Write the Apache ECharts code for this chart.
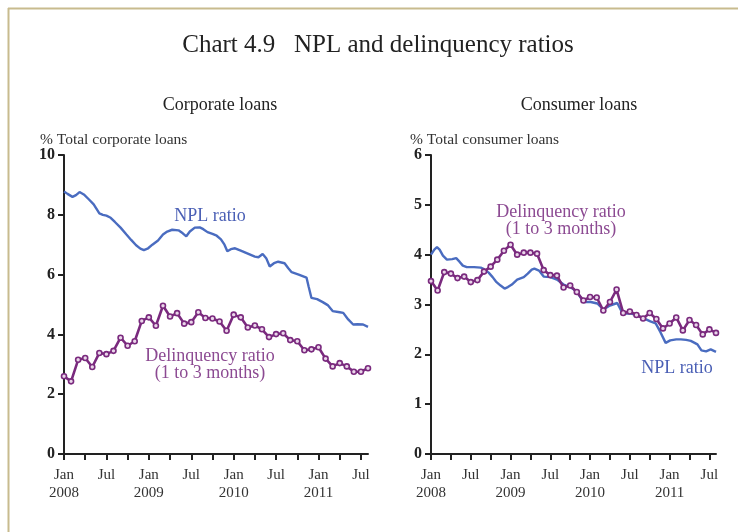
<!DOCTYPE html>
<html><head><meta charset="utf-8">
<script src="https://cdn.jsdelivr.net/npm/echarts@6/dist/echarts.min.js"></script>
<style>html,body{margin:0;padding:0;background:#fff}#c{width:738px;height:532px}</style>
</head><body><div id="c"></div>
<script>
// Months counted from Jan 2008 (0 = Jan 2008)
const delinqMonths = [0,1,2,3,4,5,6,7,8,9,10,11,12,13,14,15,16,17,18,19,20,21,22,23,24,25,26,27,28,29,30,31,32,33,34,35,36,37,38,39,40,41,42,43];
const corpDelinq = [2.60,2.43,3.15,3.21,2.91,3.38,3.34,3.45,3.89,3.62,3.77,4.45,4.57,4.29,4.96,4.60,4.71,4.36,4.41,4.74,4.55,4.53,4.43,4.12,4.66,4.57,4.23,4.30,4.17,3.91,4.01,4.04,3.81,3.77,3.47,3.50,3.57,3.19,2.93,3.04,2.93,2.75,2.75,2.87];
const consDelinq = [3.47,3.28,3.65,3.62,3.53,3.56,3.45,3.49,3.66,3.76,3.90,4.08,4.20,4.00,4.04,4.04,4.02,3.69,3.59,3.58,3.34,3.38,3.25,3.08,3.15,3.14,2.88,3.05,3.30,2.83,2.86,2.79,2.72,2.83,2.71,2.52,2.62,2.74,2.48,2.69,2.59,2.40,2.50,2.43];

const corpNplMonths = [0,0.5,1.2,1.7,2.2,2.8,3.5,4.2,5.0,5.5,6.0,6.6,7.2,8.0,8.8,9.5,10.2,10.8,11.3,11.9,12.5,13.3,14.0,14.6,15.3,16.2,16.8,17.3,17.8,18.5,19.2,19.7,20.3,21.0,21.6,22.2,22.7,23.1,23.6,24.2,25.0,26.0,27.0,27.5,28.1,28.6,29.1,29.7,30.3,31.2,31.7,32.2,33.2,34.3,34.6,35.0,35.8,36.6,37.3,38.0,39.0,39.5,40.2,40.9,41.5,42.3,43.0];
const corpNpl = [8.78,8.70,8.60,8.66,8.76,8.68,8.52,8.35,8.05,8.00,7.97,7.90,7.76,7.57,7.35,7.16,6.98,6.87,6.82,6.88,7.00,7.14,7.34,7.44,7.50,7.48,7.38,7.28,7.44,7.57,7.58,7.52,7.42,7.36,7.30,7.18,7.00,6.78,6.85,6.88,6.80,6.70,6.60,6.58,6.69,6.55,6.27,6.38,6.43,6.38,6.22,6.08,6.00,5.90,5.60,5.22,5.18,5.08,4.98,4.78,4.74,4.72,4.50,4.33,4.34,4.33,4.25];

const consNplMonths = [0,0.5,0.9,1.3,1.8,2.4,3.2,3.8,4.3,4.8,5.4,6.5,7.5,8.0,8.7,9.3,9.8,10.5,11.1,11.6,12.2,13.0,14.0,14.6,15.2,15.6,16.3,17.0,18.0,19.0,20.0,21.0,22.0,23.0,24.1,25.1,26.0,27.0,28.1,28.6,29.0,30.1,31.1,32.1,33.1,33.9,34.6,35.4,36.1,37.0,37.7,38.5,39.2,40.2,40.8,41.5,42.2,43.0];
const consNpl = [4.00,4.10,4.15,4.10,3.98,3.90,3.91,3.93,3.86,3.78,3.75,3.75,3.74,3.71,3.64,3.55,3.46,3.38,3.32,3.35,3.40,3.50,3.55,3.62,3.70,3.72,3.68,3.56,3.55,3.50,3.40,3.35,3.26,3.05,3.05,3.02,2.90,2.98,3.03,2.90,2.82,2.82,2.78,2.72,2.66,2.62,2.45,2.23,2.28,2.30,2.30,2.29,2.27,2.20,2.08,2.06,2.10,2.05];

const xTickMonths = [0,3,6,9,12,15,18,21,24,27,30,33,36,39,42];
const xTickLabels = ['Jan\n2008','','Jul','','Jan\n2009','','Jul','','Jan\n2010','','Jul','','Jan\n2011','','Jul'];

const FONT = '"Liberation Serif", "DejaVu Serif", serif';
const BLUE = '#4a6cc0';
const PURPLE = '#7a2a7e';
const LABEL_PURPLE = '#8c4a92';
const LABEL_BLUE = '#4a5fb5';

function pairs(xs, ys){ return xs.map((x,i)=>[x, ys[i]]); }

function xAxisCfg(gi){
  return {
    type:'value', gridIndex:gi, min:0, max:43,
    axisLine:{show:true, onZero:false, lineStyle:{color:'#222', width:2}},
    axisTick:{show:true, inside:false, length:6, lineStyle:{color:'#222', width:2}, customValues:xTickMonths},
    axisLabel:{customValues:xTickMonths, margin:12, fontFamily:FONT, fontSize:15, color:'#333', lineHeight:18,
      formatter:function(v){ const i = xTickMonths.indexOf(Math.round(v)); return i>=0 ? xTickLabels[i] : ''; }},
    splitLine:{show:false}
  };
}
function yAxisCfg(gi, max, interval){
  return {
    type:'value', gridIndex:gi, min:0, max:max, interval:interval,
    axisLine:{show:true, lineStyle:{color:'#222', width:2}},
    axisTick:{show:true, length:6, lineStyle:{color:'#222', width:2}},
    axisLabel:{margin:9, fontFamily:FONT, fontSize:16, fontWeight:'bold', color:'#222'},
    splitLine:{show:false}
  };
}
function nplSeries(gi, data){
  return {type:'line', xAxisIndex:gi, yAxisIndex:gi, data:data, showSymbol:false, symbol:'none',
    lineStyle:{color:BLUE, width:2.4}, z:2, animation:false};
}
function delSeries(gi, data){
  return {type:'line', xAxisIndex:gi, yAxisIndex:gi, data:data, symbol:'circle', symbolSize:5, showSymbol:true,
    lineStyle:{color:PURPLE, width:2.6}, itemStyle:{color:'#ead6ea', borderColor:PURPLE, borderWidth:1.6}, z:3, animation:false};
}
function txt(x, y, s, size, color, align){
  return {type:'text', x:x, y:y, style:{text:s, fontFamily:FONT, fontSize:size, fill:color, textAlign:align||'center', textVerticalAlign:'middle'}};
}

const chart = echarts.init(document.getElementById('c'), null, {renderer:'canvas'});
chart.setOption({
  animation:false,
  backgroundColor:'#fff',
  grid:[
    {left:64, top:155, width:304, height:299},
    {left:431, top:155, width:285, height:299}
  ],
  xAxis:[xAxisCfg(0), xAxisCfg(1)],
  yAxis:[yAxisCfg(0,10,2), yAxisCfg(1,6,1)],
  series:[
    nplSeries(0, pairs(corpNplMonths, corpNpl)),
    delSeries(0, pairs(delinqMonths, corpDelinq)),
    nplSeries(1, pairs(consNplMonths, consNpl)),
    delSeries(1, pairs(delinqMonths, consDelinq))
  ],
  graphic:[
    {type:'line', shape:{x1:8, y1:8.5, x2:738, y2:8.5}, style:{stroke:'#c8bb8e', lineWidth:2}},
    {type:'line', shape:{x1:8.5, y1:8, x2:8.5, y2:532}, style:{stroke:'#c8bb8e', lineWidth:2}},
    txt(378, 45, 'Chart 4.9   NPL and delinquency ratios', 25, '#222'),
    txt(220, 105, 'Corporate loans', 18, '#222'),
    txt(579, 105, 'Consumer loans', 18, '#222'),
    txt(40, 140, '% Total corporate loans', 15.5, '#333', 'left'),
    txt(410, 140, '% Total consumer loans', 15.5, '#333', 'left'),
    txt(210, 216, 'NPL ratio', 18, LABEL_BLUE),
    txt(210, 356, 'Delinquency ratio', 18, LABEL_PURPLE),
    txt(210, 373, '(1 to 3 months)', 18, LABEL_PURPLE),
    txt(561, 212, 'Delinquency ratio', 18, LABEL_PURPLE),
    txt(561, 229, '(1 to 3 months)', 18, LABEL_PURPLE),
    txt(677, 368, 'NPL ratio', 18, LABEL_BLUE)
  ]
});
</script></body></html>
